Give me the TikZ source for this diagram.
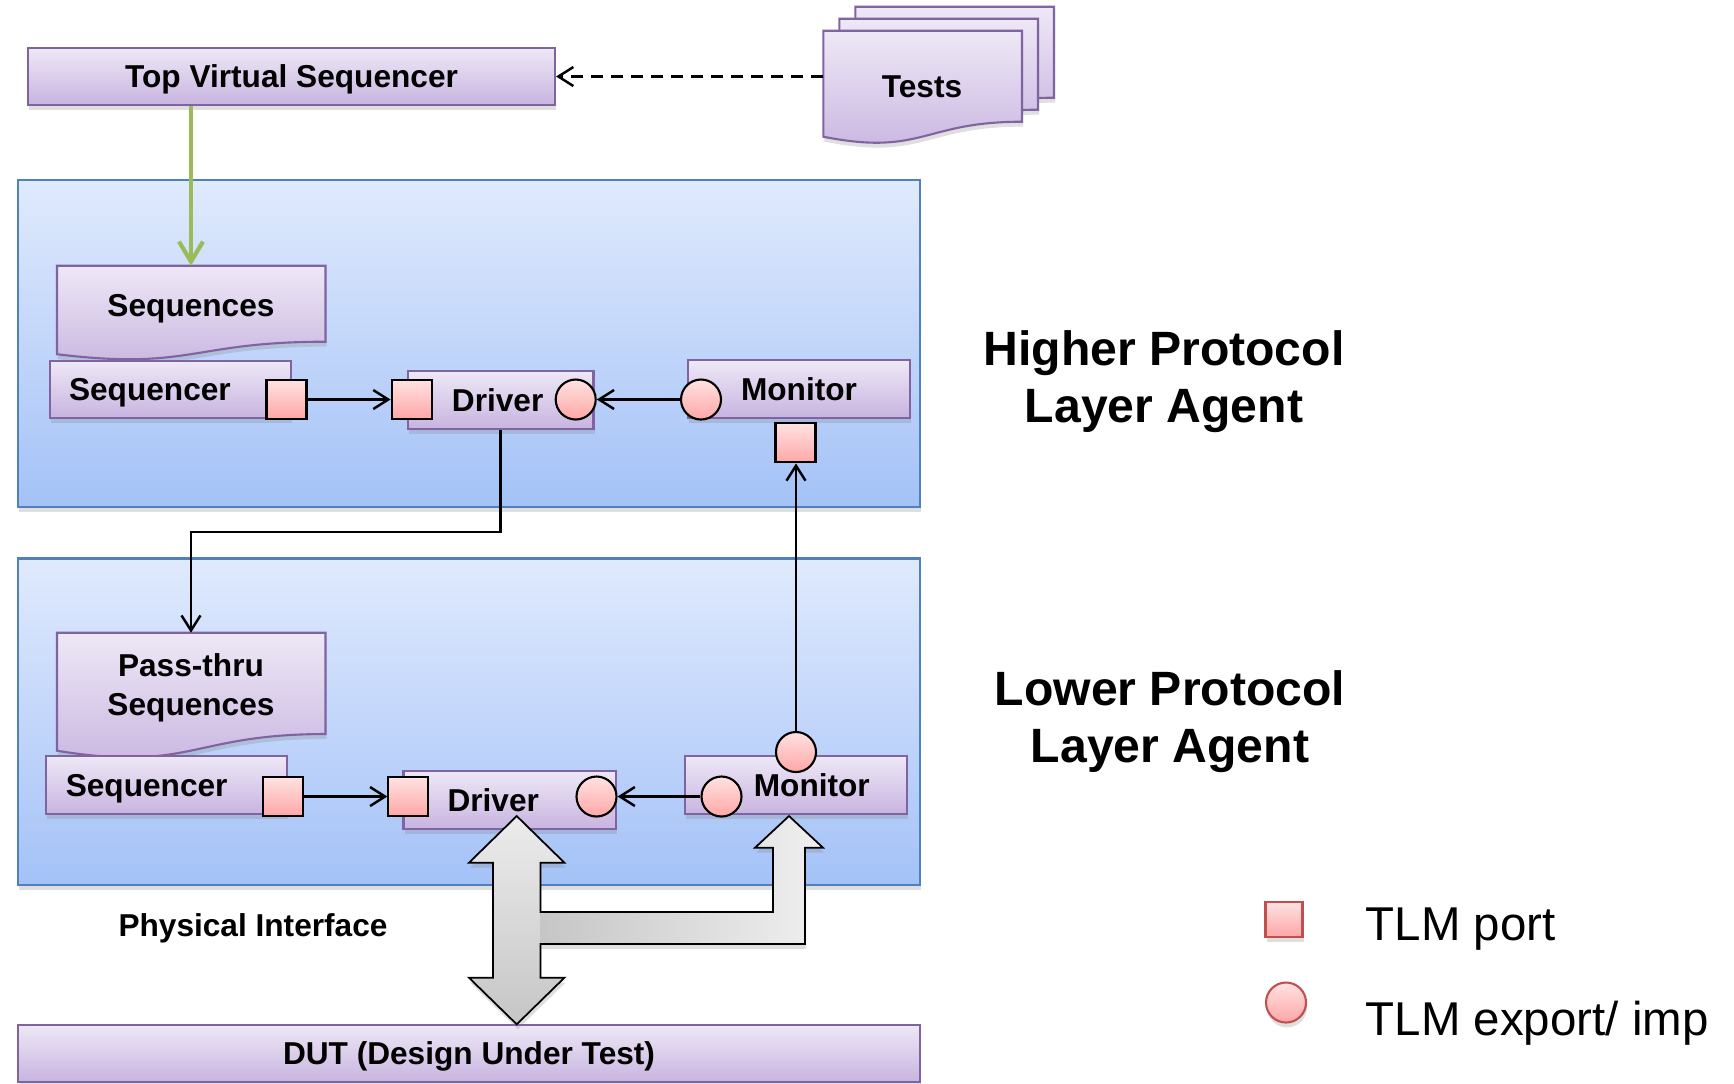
\documentclass[tikz,border=0pt]{standalone}
\usepackage{fontspec}
\setmainfont{Liberation Sans}
\usetikzlibrary{arrows.meta,shadows}

\definecolor{lavtop}{HTML}{EEE8F6}
\definecolor{lavbot}{HTML}{C8B4E0}
\definecolor{lavline}{HTML}{8064A2}
\definecolor{bluetop}{HTML}{E0EAFD}
\definecolor{bluebot}{HTML}{A4C2F7}
\definecolor{blueline}{HTML}{4F81BD}
\definecolor{pinktop}{HTML}{FFE2E2}
\definecolor{pinkbot}{HTML}{FFA6A6}
\definecolor{legred}{HTML}{C0504D}
\definecolor{feedgreen}{HTML}{9BBB59}

\begin{document}
\begin{tikzpicture}[x=0.1mm, y=-0.1mm,
    lbl/.style = {font=\fontsize{9}{11}\selectfont\bfseries, text height=6.4pt, text depth=0pt},
    shd/.style = {drop shadow={opacity=0.25, shadow xshift=0.3pt, shadow yshift=-1.4pt}},
    box/.style = {lbl, draw=lavline, line width=0.6pt, top color=lavtop, bottom color=lavbot, inner sep=0pt, shd},
    doc/.style = {draw=lavline, line width=0.6pt, top color=lavtop, bottom color=lavbot, shd},
    agent/.style = {draw=blueline, line width=0.8pt, top color=bluetop, bottom color=bluebot, inner sep=0pt, shd},
    port/.style = {draw=black, line width=0.6pt, top color=pinktop, bottom color=pinkbot, minimum width=4mm, minimum height=3.9mm, inner sep=0pt},
    imp/.style = {port, circle, minimum size=4mm},
    conn/.style = {line width=0.7pt, -{Straight Barb[length=1.5mm, width=1.9mm]}},
    feed/.style = {draw=feedgreen, line width=1.2pt, -{Straight Barb[length=2mm, width=2.4mm]}},
    big/.style = {font=\fontsize{13.7}{16.2}\selectfont\bfseries, align=center},
    legend/.style = {font=\fontsize{13.5}{16}\selectfont, inner sep=0pt}]

    \useasboundingbox (0,0) rectangle (1734,1083);

    % agents and DUT
    \node[agent, minimum width=90.2mm, minimum height=32.7mm] (upagent) at (469,343.5) {};
    \node[agent, minimum width=90.2mm, minimum height=32.65mm] (loagent) at (469,721.75) {};
    \node[box, minimum width=90.2mm, minimum height=5.7mm] (dut) at (469,1053.5) {DUT (Design Under Test)};

    % top sequencer and tests
    \node[box, minimum width=52.7mm, minimum height=5.7mm] (tvs) at (291.5,76.5) {Top Virtual Sequencer};
    \foreach \dx/\dy in {32/-24, 16/-12, 0/0}
        \draw[doc, shift={(\dx,\dy)}] (823.3,30.7) -- (1022,30.7) -- (1022,121.7)
            .. controls (922.6,121.7) and (922.6,156.3) .. (823.3,136.7) -- cycle;
    \node[lbl] (tests) at (922,86) {Tests};
    \coordinate (testsin) at (823.3,76.5);

    % sequence documents
    \draw[doc] (57,265.7) -- (325.5,265.7) -- (325.5,341.7)
        .. controls (191.2,341.7) and (191.2,370.6) .. (57,354.2) -- cycle;
    \node[lbl] (seqs) at (191,305) {Sequences};
    \coordinate (seqstop) at (191,265.7);

    \draw[doc] (57,632.7) -- (325.5,632.7) -- (325.5,734)
        .. controls (191.2,734) and (191.2,772.5) .. (57,750.7) -- cycle;
    \node[align=center, font=\fontsize{9}{11.2}\selectfont\bfseries] (pseqs) at (191,688) {Pass-thru\\Sequences};
    \coordinate (pseqstop) at (191,632.7);

    % higher layer
    \node[box, text width=20.3mm, inner xsep=1.9mm, minimum height=5.7mm, align=left] (sqr1) at (170.5,389.2) {Sequencer};
    \node[box, text width=9.75mm, inner xsep=4.4mm, minimum height=5.83mm, align=left] (drv1) at (500.7,399.8) {Driver};
    \node[box, minimum width=22.2mm, minimum height=5.77mm] (mon1) at (799,388.9) {Monitor};
    \node[port] (sp1) at (286.5,399.5) {};
    \node[port] (dp1) at (411.6,399.5) {};
    \node[imp] (dc1) at (575.7,399.5) {};
    \node[imp] (mc1) at (701,399.5) {};
    \node[port] (ms1) at (795.5,442.8) {};

    % lower layer
    \node[box, text width=20.1mm, inner xsep=2mm, minimum height=5.83mm, align=left] (sqr2) at (166.3,785.2) {Sequencer};
    \node[box, text width=12.48mm, inner xsep=4.4mm, minimum height=5.83mm, align=left] (drv2) at (509.9,799.9) {Driver};
    \node[box, minimum width=22.15mm, minimum height=5.83mm] (mon2) at (795.8,785.2) {\hspace*{3.2mm}Monitor};
    \node[port] (sp2) at (283,796.5) {};
    \node[port] (dp2) at (408.4,796.5) {};
    \node[imp] (dc2) at (596.5,796.5) {};
    \node[imp] (mc2) at (721.5,796.5) {};
    \node[imp] (mt2) at (796,752) {};

    % connections
    \draw[feed] (seqstop |- tvs.south) -- (seqstop);
    \draw[conn, dash pattern=on 1.2mm off 0.8mm] (testsin) -- (tvs.east);
    \draw[conn] (sp1.east) -- (dp1.west);
    \draw[conn] (mc1.west) -- (dc1.east);
    \draw[conn] (sp2.east) -- (dp2.west);
    \draw[conn] (mc2.west) -- (dc2.east);
    \draw[conn] (drv1.south) -- ++(0,102) -| (pseqstop);
    \draw[conn] (mt2.north) -- (mt2.north |- ms1.south);

    % physical interface arrows
    \path[shd, fill=white] (516.7,816) -- (564.4,862.7) -- (540.4,862.7) -- (540.4,912) -- (773,912)
        -- (773,847.7) -- (755,847.7) -- (789,816) -- (823,847.7) -- (805,847.7) -- (805,944)
        -- (540.4,944) -- (540.4,977.7) -- (564.4,977.7) -- (516.7,1024.3) -- (469,977.7)
        -- (493,977.7) -- (493,862.7) -- (469,862.7) -- cycle;
    \fill[top color=gray!15, bottom color=gray!45] (516.7,816) -- (564.4,862.7) -- (540.4,862.7)
        -- (540.4,977.7) -- (564.4,977.7) -- (516.7,1024.3) -- (469,977.7)
        -- (493,977.7) -- (493,862.7) -- (469,862.7) -- cycle;
    \fill[left color=gray!45, right color=gray!12] (540.4,912) -- (773,912) -- (773,847.7)
        -- (755,847.7) -- (789,816) -- (823,847.7) -- (805,847.7) -- (805,944) -- (540.4,944) -- cycle;
    \draw[line width=0.5pt] (516.7,816) -- (564.4,862.7) -- (540.4,862.7) -- (540.4,912) -- (773,912)
        -- (773,847.7) -- (755,847.7) -- (789,816) -- (823,847.7) -- (805,847.7) -- (805,944)
        -- (540.4,944) -- (540.4,977.7) -- (564.4,977.7) -- (516.7,1024.3) -- (469,977.7)
        -- (493,977.7) -- (493,862.7) -- (469,862.7) -- cycle;
    \node[lbl] (phys) at (253,925) {Physical Interface};

    % side labels
    \node[big] (uplabel) at (1164,381.5) {Higher Protocol\\Layer Agent};
    \node[big] (lolabel) at (1170,721.5) {Lower Protocol\\Layer Agent};

    % legend
    \node[port, draw=legred, minimum width=3.7mm, minimum height=3.5mm, shd] (lgport) at (1284,919.5) {};
    \node[imp, draw=legred, shd] (lgexp) at (1286,1002.5) {};
    \node[legend, anchor=base west] (lgporttext) at (1365,940) {TLM port};
    \node[legend, anchor=base west] (lgexptext) at (1365,1035) {TLM export/ imp};
\end{tikzpicture}
\end{document}
